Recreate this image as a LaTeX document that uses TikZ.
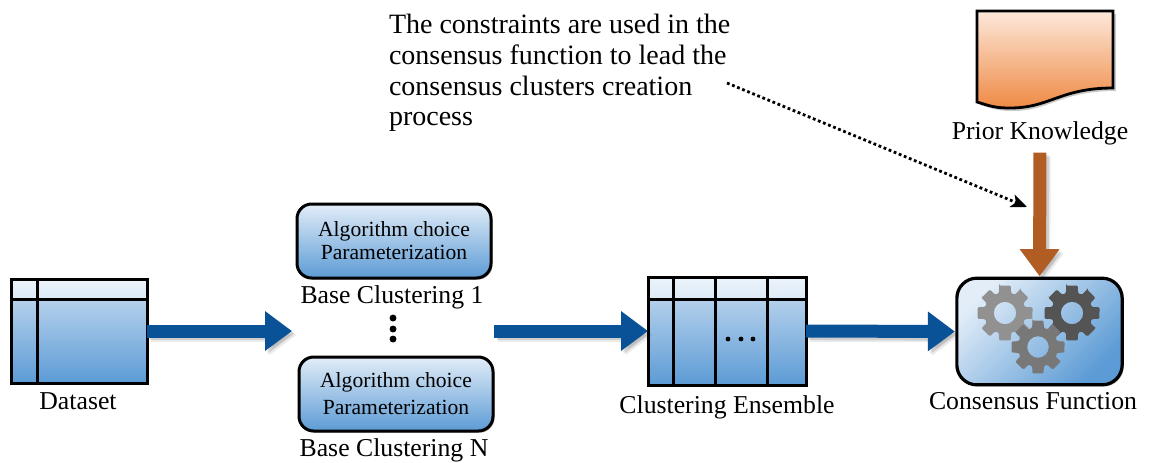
\documentclass[tikz,border=0pt]{standalone}
\usepackage{fontspec}
\setmainfont{Liberation Serif}
\usetikzlibrary{arrows.meta,shadows,calc}
\definecolor{hdrA}{HTML}{EDF4FB}
\definecolor{hdrB}{HTML}{DCE9F6}
\definecolor{bodyA}{HTML}{CADDF1}
\definecolor{bodyB}{HTML}{5C9BD5}
\definecolor{boxA}{HTML}{E2EDF8}
\definecolor{orgA}{HTML}{FCE8DA}
\definecolor{orgB}{HTML}{EF8A45}
\definecolor{arrowblue}{HTML}{0A5297}
\definecolor{arrowbrown}{HTML}{B05C22}
\tikzset{
  softshadow/.style={drop shadow={shadow xshift=1.2pt,shadow yshift=-1.2pt,opacity=.3,fill=black}},
  tablebox/.style={rectangle,inner sep=0pt,outer sep=0pt,line width=2.25pt,draw=black,top color=bodyA,bottom color=bodyB,softshadow},
  algobox/.style={rectangle,rounded corners=11pt,inner sep=0pt,outer sep=0pt,line width=2.25pt,draw=black,top color=boxA,bottom color=bodyB,
    minimum width=145.5pt,minimum height=55.5pt,softshadow,align=center,font=\fontsize{16.2}{17.3}\selectfont},
  consbox/.style={rectangle,rounded corners=15pt,inner sep=0pt,outer sep=0pt,line width=2.4pt,draw=black,top color=boxA,bottom color=bodyB,shading angle=45,
    minimum width=124pt,minimum height=80pt,softshadow},
  lbl/.style={inner sep=0pt,outer sep=0pt,text height=13pt,text depth=4pt,font=\fontsize{19.3}{22}\selectfont},
  gridline/.style={line width=2.25pt,draw=black},
  dotmark/.style={circle,fill=black,inner sep=0pt,minimum size=#1},
  fat/.style={line width=9.75pt,-{Triangle[length=20.25pt,width=28.5pt]}},
  fatshadow/.style={line width=9.75pt,-{Triangle[length=20.25pt,width=28.5pt]},draw=black,opacity=#1},
  dottedarrow/.style={line width=2.1pt,dotted,-{Stealth[length=12pt,width=10pt,inset=3pt]}}
}
\newcommand{\fatarrow}[4][]{%
  \draw[fatshadow=.08,transform canvas={shift={(3.2pt,-3.2pt)}},#1] #3 -- #4;
  \draw[fatshadow=.12,transform canvas={shift={(2pt,-2pt)}},#1] #3 -- #4;
  \draw[fat,draw=#2,#1] #3 -- #4;
}
\newcommand{\gearshape}[4]{% x y radius colour
  \fill[#4,even odd rule,rounded corners=.9pt]
    (#1+#3,#2) \foreach \a in {0,45,...,315} {
      -- ($(#1,#2)+(\a-12:#3)$) -- ($(#1,#2)+(\a+12:#3)$)
      -- ($(#1,#2)+(\a+17:#3*.74)$) -- ($(#1,#2)+(\a+28:#3*.74)$)
      -- ($(#1,#2)+(\a+33:#3)$)
    } -- cycle
    (#1,#2) circle[radius=#3*.40];
}
\begin{document}
\begin{tikzpicture}[x=.75pt,y=-.75pt]
\useasboundingbox (0,0) rectangle (1151,462);

% note
\node[anchor=north west,inner sep=0pt,outer sep=0pt,align=left,font=\fontsize{21}{22.9}\selectfont] (note) at (389,14.5)
  {The constraints are used in the\\consensus function to lead the\\consensus clusters creation\\process};

% prior knowledge document
\fill[black,opacity=.2] (980,14) -- (1116,14) -- (1116,91) .. controls (1060,91) and (1050,111) .. (1013,111) .. controls (998,111) and (993,109) .. (980,105) -- cycle;
\path[line width=2.1pt,draw=black,top color=orgA,bottom color=orgB]
  (977,11) -- (1113,11) -- (1113,88) .. controls (1060,88) and (1050,108) .. (1010,108) .. controls (995,108) and (990,106) .. (977,102) -- cycle;
\node[lbl] (priorlbl) at (1040,133.5) {Prior Knowledge};

% dataset
\node[tablebox,minimum width=102pt,minimum height=78pt] (dataset) at (79,331) {};
\path[top color=hdrA,bottom color=hdrB] (dataset.north west) rectangle (147,299);
\draw[gridline] (11,299) -- (147,299) (37,279) -- (37,383);
\draw[gridline] (dataset.north west) rectangle (dataset.south east);
\node[lbl] (datasetlbl) at (78,403.5) {Dataset};

% base clusterings
\node[algobox] (base1) at (394,241) {Algorithm choice\\Parameterization};
\node[lbl] (base1lbl) at (392,297.5) {Base Clustering 1};
\node[dotmark=5.2pt] (d1) at (393,318) {};
\node[dotmark=5.2pt] (d2) at (393,329) {};
\node[dotmark=5.2pt] (d3) at (393,339) {};
\node[algobox] (baseN) at (396,394) {Algorithm choice\\[3pt]Parameterization};
\node[lbl] (baseNlbl) at (394,450.5) {Base Clustering N};

% ensemble
\node[tablebox,minimum width=118.5pt,minimum height=81pt] (ens) at (727,331) {};
\path[top color=hdrA,bottom color=hdrB] (ens.north west) rectangle (806,299);
\draw[gridline] (648,299) -- (806,299) (673,277) -- (673,385) (715,277) -- (715,385) (767,277) -- (767,385);
\draw[gridline] (ens.north west) rectangle (ens.south east);
\node[dotmark=3.6pt] (e1) at (728,339) {};
\node[dotmark=3.6pt] (e2) at (741,339) {};
\node[dotmark=3.6pt] (e3) at (753,339) {};
\node[lbl] (enslbl) at (727,407.5) {Clustering Ensemble};

% consensus
\node[consbox] (cons) at (1039.5,331.5) {};
\gearshape{1005}{313}{28}{black!43}
\gearshape{1072}{313}{28}{black!67}
\gearshape{1038}{347}{27}{black!53}
\node[lbl] (conslbl) at (1033,403.5) {Consensus Function};

% connectors
\coordinate (tip1) at (292,331);
\coordinate (start2) at (494,331);
\coordinate (notestart) at (727,83);
\coordinate (noteend) at (1027,207);
\fatarrow{arrowblue}{(dataset.east)}{(tip1)}
\fatarrow{arrowblue}{(start2)}{(ens.west)}
\fatarrow[shorten >=1.5pt]{arrowblue}{(ens.east)}{(cons.west)}
\fatarrow[shorten <=5.8pt,shorten >=1.5pt]{arrowbrown}{(priorlbl.south)}{(cons.north)}
\draw[dottedarrow] (notestart) -- (noteend);
\end{tikzpicture}
\end{document}
